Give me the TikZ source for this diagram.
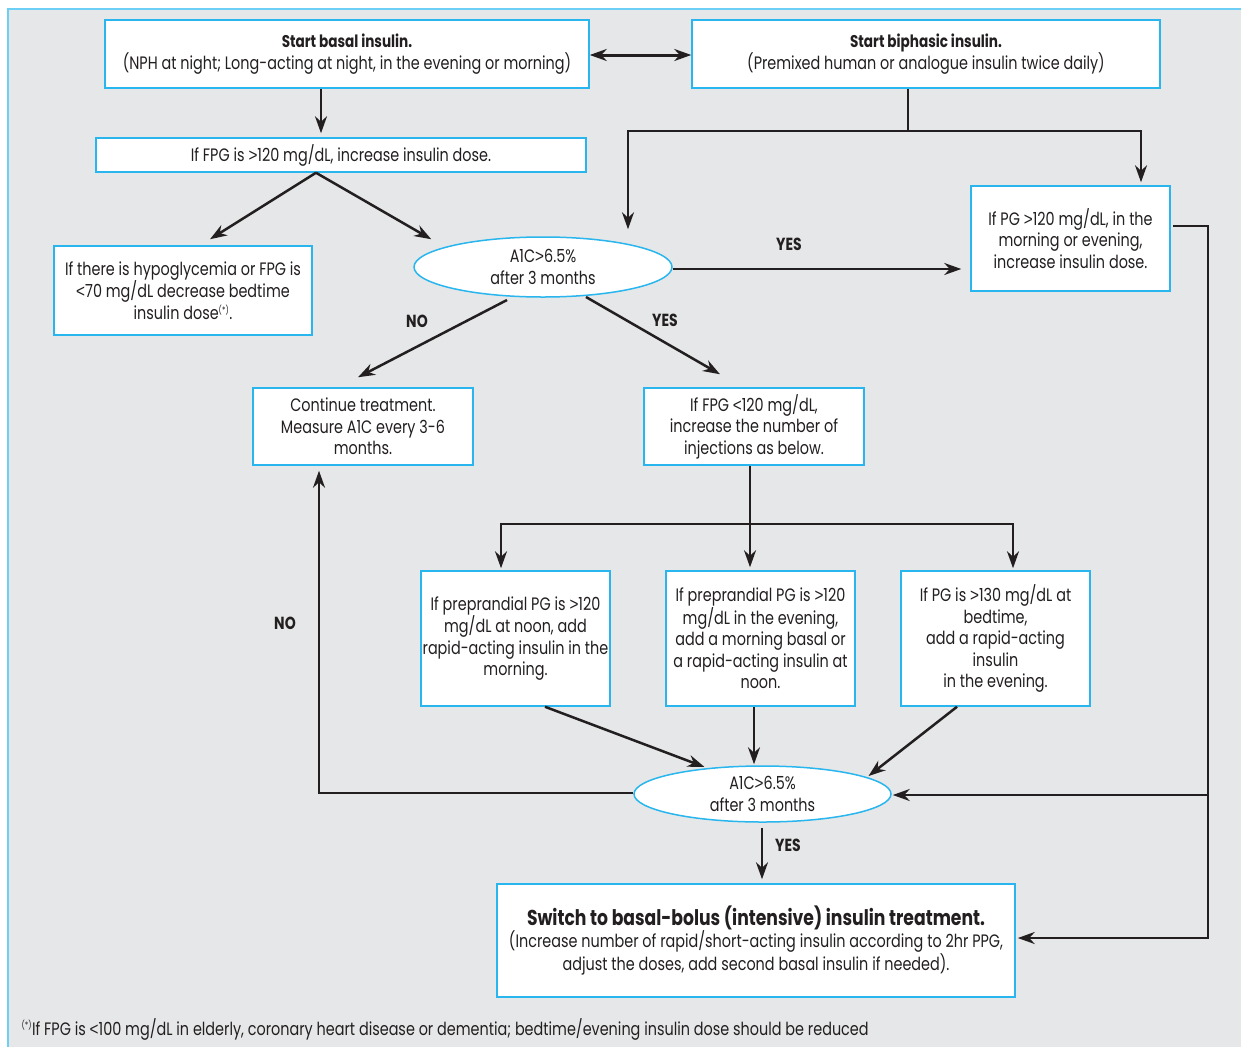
\documentclass[tikz,border=0pt]{standalone}
\usepackage{fontspec}
\setmainfont{Poppins}[FakeStretch=0.8]
\newfontfamily\cmpf{Liberation Sans}[FakeStretch=0.85]
\newcommand{\mygt}{{\cmpf >}}
\newcommand{\mylt}{{\cmpf <}}
\newcommand{\mynote}{\textsuperscript{\fontsize{9}{9}\selectfont(*)}}
\usetikzlibrary{shapes.geometric,arrows.meta,calc}
\definecolor{bgray}{HTML}{E6E7E8}
\definecolor{frameblue}{HTML}{6DCFF6}
\definecolor{boxblue}{HTML}{29B6EE}
\definecolor{ink}{HTML}{231F20}
\begin{document}
\begin{tikzpicture}[x=1pt,y=-1pt,
  txt/.style={text=ink,font=\fontsize{18}{21.5}\selectfont},
  box/.style={txt,draw=boxblue,line width=1.5pt,fill=white,align=center,inner sep=0pt},
  oval/.style={box,ellipse},
  conn/.style={draw=ink,line width=2.5pt},
  arr/.style={conn,-{Stealth[length=17pt,width=12pt]}},
  lbl/.style={text=ink,font=\fontsize{17.5}{18}\selectfont\bfseries}
]
\useasboundingbox (0,0) rectangle (1241,1047);
\fill[bgray] (8,9) rectangle (1241,1047);
\draw[frameblue,line width=2pt] (8,1047) -- (8,9) -- (1241,9);

% nodes
\node[box,minimum width=484pt,minimum height=68pt] (basal) at (347,54)
  {{\fontsize{17}{21.5}\selectfont\bfseries Start basal insulin.}\\(NPH at night; Long-acting at night, in the evening or morning)};
\node[box,minimum width=468pt,minimum height=68pt] (biph) at (926,54)
  {{\fontsize{17}{21.5}\selectfont\bfseries Start biphasic insulin.}\\(Premixed human or analogue insulin twice daily)};
\node[box,minimum width=490pt,minimum height=34pt] (fpg) at (341,155)
  {If FPG is \mygt120 mg/dL, increase insulin dose.};
\node[box,minimum width=258pt,minimum height=89pt] (hypo) at (183,290.5)
  {If there is hypoglycemia or FPG is\\\mylt70 mg/dL decrease bedtime\\insulin dose\mynote.};
\node[oval,minimum width=258pt,minimum height=60pt] (ell1) at (543,267)
  {A1C\mygt6.5\%\\after 3 months};
\node[box,minimum width=199pt,minimum height=105pt] (pgbox) at (1070.5,238.5)
  {If PG \mygt120 mg/dL, in the\\morning or evening,\\increase insulin dose.};
\node[box,minimum width=220pt,minimum height=77pt] (cont) at (363,426.5)
  {Continue treatment.\\Measure A1C every 3-6\\months.};
\node[box,minimum width=220pt,minimum height=77pt] (iffpg) at (754,426.5)
  {If FPG \mylt120 mg/dL,\\increase the number of\\injections as below.};
\node[box,minimum width=189pt,minimum height=135pt] (boxA) at (515.5,638.5)
  {If preprandial PG is \mygt120\\mg/dL at noon, add\\rapid-acting insulin in the\\morning.};
\node[box,minimum width=189pt,minimum height=135pt] (boxB) at (760.5,638.5)
  {If preprandial PG is \mygt120\\mg/dL in the evening,\\add a morning basal or\\a rapid-acting insulin at\\noon.};
\node[box,minimum width=189pt,minimum height=135pt] (boxC) at (995.5,638.5)
  {If PG is \mygt130 mg/dL at\\bedtime,\\add a rapid-acting\\insulin\\in the evening.};
\node[oval,minimum width=257pt,minimum height=56pt] (ell2) at (762.5,794)
  {A1C\mygt6.5\%\\after 3 months};
\node[box,minimum width=518pt,minimum height=113pt] (final) at (756,940.5)
  {{\fontsize{21.5}{24}\selectfont\bfseries Switch to basal-bolus (intensive) insulin treatment.}\\(Increase number of rapid/short-acting insulin according to 2hr PPG,\\adjust the doses, add second basal insulin if needed).};
\node[txt,anchor=west] (foot) at (18,1029)
  {\mynote If FPG is \mylt100 mg/dL in elderly, coronary heart disease or dementia; bedtime/evening insulin dose should be reduced};

% labels
\node[lbl] (yes1) at (789,244) {YES};
\node[lbl] (no1) at (417,321) {NO};
\node[lbl] (yes2) at (665,320) {YES};
\node[lbl] (no2) at (285,623) {NO};
\node[lbl] (yes3) at (788,845) {YES};

% connectors
\draw[conn,line width=3pt,{Stealth[length=17pt,width=12pt]}-{Stealth[length=17pt,width=12pt]}] (basal.east |- 0,55) -- (biph.west |- 0,55);
\draw[arr,shorten >=4pt] (321,0 |- basal.south) -- (321,0 |- fpg.north);
\draw[arr] (316,0 |- fpg.south) -- ($(hypo.north)+(27,-6)$);
\draw[arr] (316,0 |- fpg.south) -- ($(ell1.north west)+(-20,-6)$);
\draw[conn] (908,0 |- biph.south) -- (908,131);
\draw[arr,shorten >=7pt] (908,131) -| (628,0 |- ell1.north);
\draw[arr,shorten >=3pt] (908,131) -| (1141,0 |- pgbox.north);
\draw[arr,shorten >=9pt] (ell1.east |- 0,269) -- (pgbox.west |- 0,269);
\draw[arr] ($(ell1.center)+(-36,33)$) -- ($(cont.north)+(-5,-10)$);
\draw[arr] ($(ell1.center)+(43,30)$) -- ($(iffpg.north)+(-34,-13)$);
\draw[arr,shorten >=3pt] (750,0 |- iffpg.south) -- (750,0 |- boxB.north);
\draw[arr,shorten >=2pt] (750,524) -| (501,0 |- boxA.north);
\draw[arr,shorten >=2pt] (750,524) -| (1013,0 |- boxC.north);
\draw[arr] (545,0 |- boxA.south) -- ($(ell2.center)+(-58,-27)$);
\draw[arr,shorten >=1pt] (754,0 |- boxB.south) -- (754,0 |- ell2.north);
\draw[arr] (957,0 |- boxC.south) -- ($(ell2.center)+(106,-18)$);
\draw[arr,shorten >=5pt] (ell2.west |- 0,793) -| (319,0 |- cont.south);
\draw[arr,shorten >=2pt] ($(pgbox.east)+(2,-12.5)$) -| (1208,938) -- (final.east |- 0,938);
\draw[arr,shorten >=1pt] (1208,795) -- (ell2.east |- 0,795);
\draw[arr,shorten <=5pt,shorten >=4pt] (762,0 |- ell2.south) -- (762,0 |- final.north);
\end{tikzpicture}
\end{document}
